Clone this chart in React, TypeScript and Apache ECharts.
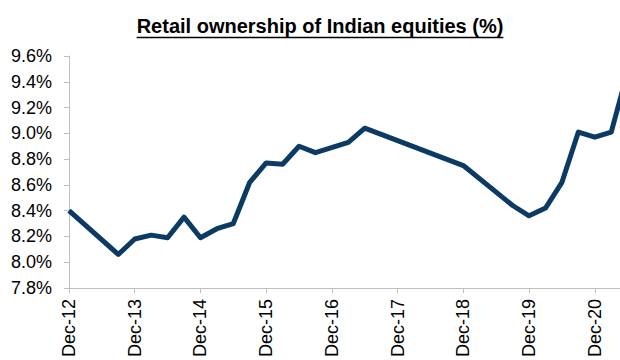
import React, { useEffect, useRef } from "react";
import * as echarts from "echarts";

// Quarter-end observations (retail share of Indian equities, %)
const quarters = [
  "Dec-12", "Sep-13", "Dec-13", "Mar-14", "Jun-14", "Sep-14", "Dec-14",
  "Mar-15", "Jun-15", "Sep-15", "Dec-15", "Mar-16", "Jun-16", "Sep-16",
  "Mar-17", "Jun-17", "Dec-18", "Sep-19", "Dec-19", "Mar-20", "Jun-20",
  "Sep-20", "Dec-20", "Mar-21", "Jun-21",
];
const retailShare = [
  8.40, 8.06, 8.18, 8.21, 8.19, 8.35, 8.19,
  8.26, 8.30, 8.62, 8.77, 8.76, 8.90, 8.85,
  8.93, 9.04, 8.75, 8.44, 8.36, 8.42, 8.62,
  9.01, 8.97, 9.01, 9.48,
];
const yearTickLabels = ["Dec-12", "Dec-13", "Dec-14", "Dec-15", "Dec-16", "Dec-17", "Dec-18", "Dec-19", "Dec-20"];

const TITLE = "Retail ownership of Indian equities (%)";
const FONT = 'Arial, "Liberation Sans", sans-serif';
const MONTHS = ["Jan", "Feb", "Mar", "Apr", "May", "Jun", "Jul", "Aug", "Sep", "Oct", "Nov", "Dec"];

// months elapsed since Dec-12
function monthIndex(label: string): number {
  const [m, y] = label.split("-");
  return (Number(y) - 12) * 12 + (MONTHS.indexOf(m) - 11);
}

export default function App() {
  const ref = useRef<HTMLDivElement>(null);

  useEffect(() => {
    if (!ref.current) return;
    const chart = echarts.init(ref.current, null, { renderer: "svg" });

    const ctx = document.createElement("canvas").getContext("2d")!;
    ctx.font = `bold 20px ${FONT}`;
    const titleWidth = ctx.measureText(TITLE).width;
    const titleX = 320;

    const tickValues = yearTickLabels.map(monthIndex);
    const data = quarters.map((q, i) => [monthIndex(q), retailShare[i]]);

    chart.setOption({
      animation: false,
      textStyle: { fontFamily: FONT },
      grid: { left: 69, right: 0, top: 56, bottom: 72, containLabel: false },
      graphic: [
        {
          type: "text",
          x: titleX,
          y: 26,
          style: {
            text: TITLE,
            font: `bold 20px ${FONT}`,
            fill: "#000",
            textAlign: "center",
            textVerticalAlign: "middle",
          },
        },
        {
          type: "line",
          shape: { x1: titleX - titleWidth / 2, y1: 37.5, x2: titleX + titleWidth / 2, y2: 37.5 },
          style: { stroke: "#000", lineWidth: 1.5 },
        },
      ],
      xAxis: {
        type: "value",
        min: 0,
        max: 100.6,
        interval: 12,
        splitLine: { show: false },
        axisLine: { lineStyle: { color: "#bfbfbf", width: 1 } },
        axisTick: { show: true, length: 5, customValues: tickValues, lineStyle: { color: "#bfbfbf" } },
        axisLabel: {
          customValues: tickValues,
          rotate: 90,
          margin: 11,
          fontSize: 18,
          color: "#000",
          fontFamily: FONT,
          formatter: (v: number) => yearTickLabels[tickValues.indexOf(Math.round(v))] ?? "",
        },
      },
      yAxis: {
        type: "value",
        min: 7.8,
        max: 9.6,
        interval: 0.2,
        splitLine: { show: false },
        axisLine: { show: true, lineStyle: { color: "#bfbfbf", width: 1 } },
        axisTick: { show: true, length: 5, lineStyle: { color: "#bfbfbf" } },
        axisLabel: {
          margin: 17,
          fontSize: 18,
          color: "#000",
          fontFamily: FONT,
          formatter: (v: number) => `${v.toFixed(1)}%`,
        },
      },
      series: [
        {
          type: "line",
          data,
          symbol: "none",
          clip: true,
          lineStyle: { color: "#0b3a64", width: 5, join: "round", cap: "butt" },
        },
      ],
    });

    return () => chart.dispose();
  }, []);

  return (
    <div
      ref={ref}
      style={{ position: "absolute", left: 0, top: 0, width: 620, height: 360, background: "#fff" }}
    />
  );
}
